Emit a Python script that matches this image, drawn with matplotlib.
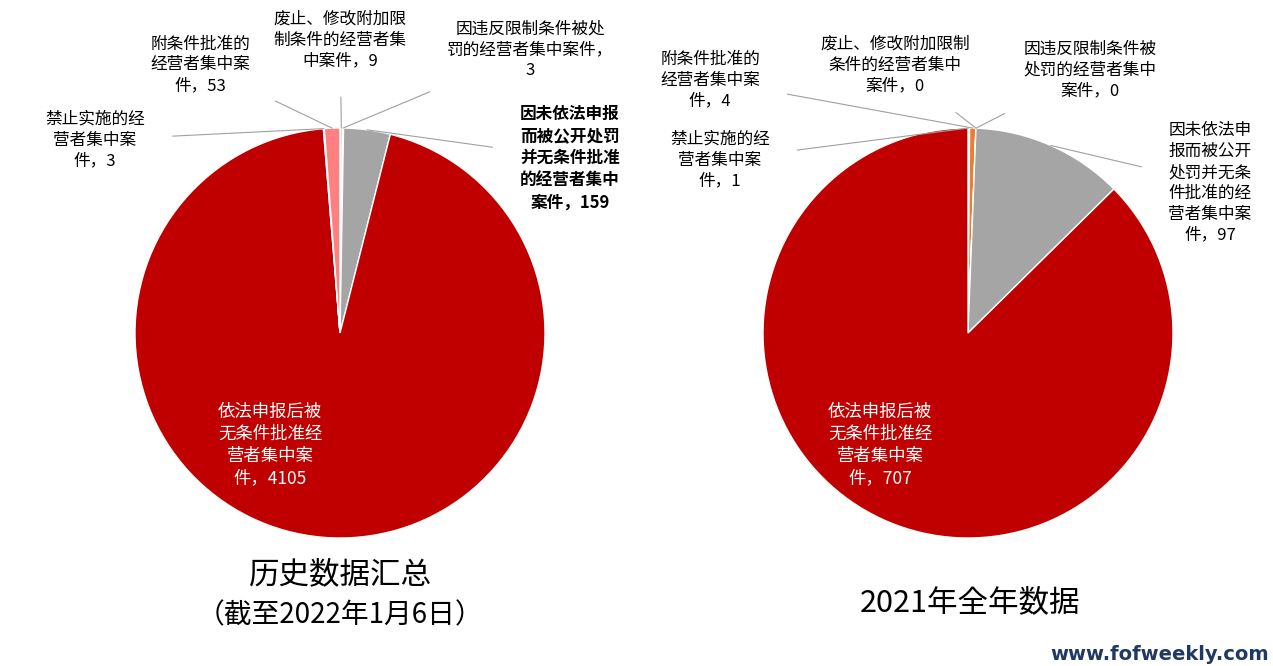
import matplotlib
matplotlib.use("Agg")
import matplotlib.pyplot as plt
from matplotlib import font_manager
import numpy as np

names = {f.name for f in font_manager.fontManager.ttflist}
cjk = [n for n in ["Noto Sans CJK SC", "Noto Sans CJK JP", "Noto Sans CJK TC", "Noto Sans CJK KR"] if n in names]
cjk += [n for n in sorted(names) if "CJK" in n and n not in cjk]
plt.rcParams['font.family'] = cjk + ['DejaVu Sans']

W, H = 1273, 666
# clockwise from 12 o'clock
left_labels = ["废止、修改附加限\n制条件的经营者集\n中案件，9", "因违反限制条件被处\n罚的经营者集中案件，\n3",
               "因未依法申报\n而被公开处罚\n并无条件批准\n的经营者集中\n案件，159", "依法申报后被\n无条件批准经\n营者集中案\n件，4105",
               "禁止实施的经\n营者集中案\n件，3", "附条件批准的\n经营者集中案\n件，53"]
left_values = [9, 3, 159, 4105, 3, 53]
left_colors = ["#D9D9D9", "#7F7F7F", "#A5A5A5", "#C00000", "#FFC0C0", "#FF8080"]
left_pos = [(340, 40), (530, 50), (570, 158), (270, 445), (95, 140), (200, 65)]

right_labels = ["禁止实施的经\n营者集中案\n件，1", "附条件批准的\n经营者集中案\n件，4", "废止、修改附加限制\n条件的经营者集中\n案件，0",
                "因违反限制条件被\n处罚的经营者集中\n案件，0", "因未依法申\n报而被公开\n处罚并无条\n件批准的经\n营者集中案\n件，97",
                "依法申报后被\n无条件批准经\n营者集中案\n件，707"]
right_values = [1, 4, 0, 0, 97, 707]
right_colors = ["#FFC0C0", "#ED7D31", "#D9D9D9", "#7F7F7F", "#A5A5A5", "#C00000"]
right_pos = [(720, 160), (710, 80), (895, 65), (1090, 70), (1210, 183), (880, 445)]

fig = plt.figure(figsize=(W/100, H/100), dpi=100)

def draw(cx, cy, r, labels, values, colors, pos, big_idx, bold_idx=None):
    ax = fig.add_axes([(cx-r)/W, (H-cy-r)/H, 2*r/W, 2*r/H])
    wedges, _ = ax.pie(values, colors=colors, startangle=90, counterclock=False,
                       wedgeprops=dict(edgecolor='white', linewidth=1.0))
    ax.set_xlim(-1, 1); ax.set_ylim(-1, 1); ax.set_aspect('auto')
    for i, (w, lab, (px, py)) in enumerate(zip(wedges, labels, pos)):
        if i == big_idx:
            fig.text(px/W, 1-py/H, lab, ha='center', va='center', color='white', fontsize=12.5, linespacing=1.3)
            continue
        ang = np.deg2rad((w.theta1+w.theta2)/2)
        ax.annotate(lab, xy=(np.cos(ang), np.sin(ang)), xycoords='data',
                    xytext=(px/W, 1-py/H), textcoords='figure fraction',
                    ha='center', va='center', fontsize=12, linespacing=1.3,
                    fontweight='bold' if i == bold_idx else 'normal',
                    arrowprops=dict(arrowstyle='-', color='#A0A0A0', lw=0.8, shrinkA=18, shrinkB=0))

draw(340, 333, 205, left_labels, left_values, left_colors, left_pos, 3, bold_idx=2)
draw(968, 333, 205, right_labels, right_values, right_colors, right_pos, 5)

fig.text(340/W, 1-575/H, "历史数据汇总", ha='center', va='center', fontsize=22)
fig.text(340/W, 1-615/H, "（截至2022年1月6日）", ha='center', va='center', fontsize=20)
fig.text(970/W, 1-603/H, "2021年全年数据", ha='center', va='center', fontsize=22)
fig.text(1160/W, 1-654/H, "www.fofweekly.com", ha='center', va='center', fontsize=14,
         fontweight='bold', color='#1F3864', family='DejaVu Sans')
fig.savefig("out.png", dpi=100)
